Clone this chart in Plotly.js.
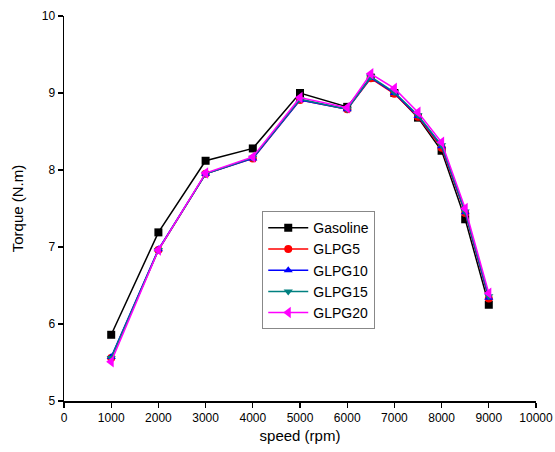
<!DOCTYPE html>
<html><head><meta charset="utf-8">
<script src="https://cdn.plot.ly/plotly-3.0.1.min.js"></script>
<style>html,body{margin:0;padding:0;background:#fff}#chart{width:555px;height:452px}</style>
</head><body><div id="chart"></div>
<script>
const speed = [1000,2000,3000,4000,5000,6000,6500,7000,7500,8000,8500,9000];
const gasoline = [5.86,7.19,8.12,8.28,9.00,8.82,9.20,9.00,8.68,8.25,7.36,6.25];
const glpg5  = [5.56,6.96,7.95,8.15,8.91,8.79,9.19,8.99,8.69,8.29,7.44,6.33];
const glpg10 = [5.57,6.97,7.95,8.15,8.91,8.79,9.20,9.00,8.70,8.31,7.45,6.34];
const glpg15 = [5.56,6.96,7.95,8.16,8.92,8.79,9.21,9.01,8.71,8.32,7.46,6.36];
const glpg20 = [5.51,6.96,7.96,8.17,8.94,8.81,9.25,9.06,8.75,8.36,7.50,6.40];
const names = ["Gasoline","GLPG5","GLPG10","GLPG15","GLPG20"];
const colors = ["#000000","#ff0000","#0000ff","#008080","#ff00ff"];
const symbols = ["square","circle","triangle-up","triangle-down","triangle-left"];
const series = [gasoline,glpg5,glpg10,glpg15,glpg20];
const traces = series.map((s,i)=>({
  x: speed, y: s, name: names[i], type:'scatter', mode:'lines+markers',
  line:{color:colors[i], width:1.5},
  marker:{symbol:symbols[i], color:colors[i], size: i===4?10:8}
}));
const font = {family:'Liberation Sans, Arial, sans-serif', color:'#000'};
const layout = {
  width:555, height:452,
  margin:{l:64, r:19, t:16, b:51},
  paper_bgcolor:'#fff', plot_bgcolor:'#fff',
  font: Object.assign({size:12}, font),
  showlegend:true,
  legend:{x:0.42, y:0.493, xanchor:'left', yanchor:'top', bordercolor:'#888', borderwidth:1,
          bgcolor:'#fff', font:Object.assign({size:14}, font), tracegroupgap:0, itemwidth:40},
  xaxis:{range:[0,10000], tickvals:[0,1000,2000,3000,4000,5000,6000,7000,8000,9000,10000],
         ticktext:['0','1000','2000','3000','4000','5000','6000','7000','8000','9000','10000'],
         showgrid:false, zeroline:false, showline:true, linecolor:'#000', linewidth:1.5,
         ticks:'outside', ticklen:5, tickcolor:'#000', tickwidth:1.2,
         tickfont:Object.assign({size:12}, font),
         title:{text:'speed (rpm)', font:Object.assign({size:15}, font), standoff:6}},
  yaxis:{range:[5,10], tickvals:[5,6,7,8,9,10], showgrid:false, zeroline:false,
         showline:true, linecolor:'#000', linewidth:1.5,
         ticks:'outside', ticklen:5, tickcolor:'#000', tickwidth:1.2,
         tickfont:Object.assign({size:12}, font),
         title:{text:'Torque (N.m)', font:Object.assign({size:15}, font), standoff:14}}
};
Plotly.newPlot('chart', traces, layout, {displayModeBar:false, staticPlot:true});
</script></body></html>
